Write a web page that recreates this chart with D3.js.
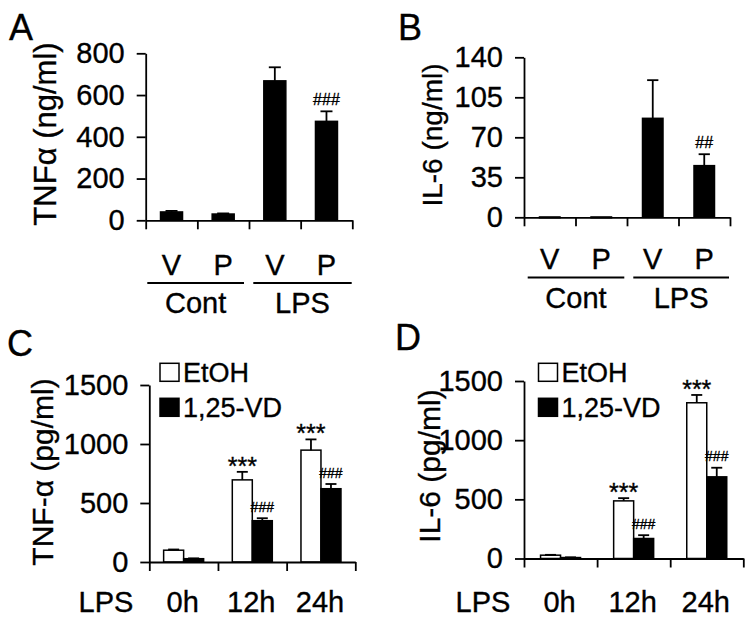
<!DOCTYPE html>
<html>
<head>
<meta charset="utf-8">
<script src="https://cdn.jsdelivr.net/npm/d3@7"></script>
<style>
  html, body { margin: 0; padding: 0; background: #fff; }
  svg { display: block; }
  text { font-family: "Liberation Sans", Arial, Helvetica, sans-serif; fill: #000; stroke: #000; stroke-width: 0.35px; }
</style>
</head>
<body>
<svg id="chart" width="750" height="618"></svg>
<script>
// ---------------- DATA ----------------
const abCategories = ["V", "P", "V", "P"];
const abGroups = ["Cont", "LPS"];

const tnfA = [40, 30, 668, 474];
const tnfAErr = [5, 3, 65, 48];
const tnfAMarks = ["", "", "", "###"];
const tnfATicks = [0, 200, 400, 600, 800];

const il6B = [0.3, 0.3, 86.6, 45.2];
const il6BErr = [0, 0, 33.4, 10];
const il6BMarks = ["", "", "", "##"];
const il6BTicks = [0, 35, 70, 105, 140];

const timeLabels = ["0h", "12h", "24h"];
const seriesNames = ["EtOH", "1,25-VD"];

const tnfCEtOH = [100, 696, 948];
const tnfCEtOHErr = [6, 68, 91];
const tnfCVD = [28, 350, 621];
const tnfCVDErr = [3, 21, 40];

const il6DEtOH = [28, 487, 1316];
const il6DEtOHErr = [3, 23, 66];
const il6DVD = [8, 169, 690];
const il6DVDErr = [2, 28, 77];

const etohMarks = ["", "***", "***"];
const vdMarks = ["", "###", "###"];
const cdTicks = [0, 500, 1000, 1500];

// ---------------- DRAW ----------------
const svg = d3.select("#chart");
svg.append("rect").attr("width", 750).attr("height", 618).attr("fill", "#fff");

const SW = 1.8;

function yAxis(g, y, ticks) {
  const ax = g.append("g")
    .attr("transform", `translate(${y.x0},0)`)
    .call(d3.axisLeft(y).tickValues(ticks).tickFormat(d3.format("d"))
      .tickSize(9).tickPadding(12).tickSizeOuter(0));
  ax.selectAll("path, line").attr("stroke", "#000").attr("stroke-width", SW);
  ax.selectAll("text").attr("font-size", 29)
    .attr("font-family", "Liberation Sans, Arial, sans-serif")
    .attr("fill", "#000").attr("stroke", "#000").attr("stroke-width", 0.35);
}

function xAxis(g, n, x0, x1, yBase) {
  const xl = d3.scaleLinear().domain([0, n]).range([x0, x1]);
  const ax = g.append("g")
    .attr("transform", `translate(0,${yBase})`)
    .call(d3.axisBottom(xl).tickValues(d3.range(n + 1)).tickSize(9).tickFormat("").tickSizeOuter(0));
  ax.selectAll("path, line").attr("stroke", "#000").attr("stroke-width", SW);
}

function bar(g, cx, w, val, err, y, fill, mark, markType) {
  const top = y(val), base = y(0);
  g.append("rect")
    .attr("x", cx - w / 2).attr("y", top)
    .attr("width", w).attr("height", Math.max(base - top, 0.8))
    .attr("fill", fill).attr("stroke", "#000").attr("stroke-width", 1.5);
  let errTop = top;
  if (err > 0) {
    errTop = y(val + err);
    g.append("line").attr("x1", cx).attr("x2", cx).attr("y1", top).attr("y2", errTop)
      .attr("stroke", "#000").attr("stroke-width", SW);
    g.append("line").attr("x1", cx - w / 4 - 0.5).attr("x2", cx + w / 4 + 0.5).attr("y1", errTop).attr("y2", errTop)
      .attr("stroke", "#000").attr("stroke-width", SW);
  }
  if (mark) {
    if (mark.startsWith("#")) {
      g.append("text").attr("x", cx).attr("y", errTop - 6.5)
        .attr("text-anchor", "middle")
        .attr("font-family", "Liberation Serif, Times New Roman, serif")
        .attr("font-size", markType === "big" ? 16 : 14)
        .attr("stroke-width", 0.2)
        .text(mark);
    } else {
      g.append("text").attr("x", cx).attr("y", errTop + 3)
        .attr("text-anchor", "middle")
        .attr("font-size", 25)
        .attr("stroke-width", 0.6)
        .text(mark);
    }
  }
}

function yLabel(g, text, xBase, yCenter, size) {
  g.append("text")
    .attr("transform", `translate(${xBase},${yCenter}) rotate(-90)`)
    .attr("text-anchor", "middle")
    .attr("font-size", size)
    .text(text);
}

function panelLetter(g, t, x, y) {
  g.append("text").attr("x", x).attr("y", y).attr("font-size", 36).text(t);
}

// ---- Panels A & B ----
function panelAB(cfg) {
  const g = svg.append("g");
  const y = d3.scaleLinear().domain([0, cfg.ticks[cfg.ticks.length - 1]]).range([cfg.y0, cfg.y1]);
  y.x0 = cfg.x0;
  const xb = d3.scaleBand().domain(d3.range(abCategories.length)).range([cfg.x0, cfg.x1]).padding(0);
  const bw = cfg.barW;
  cfg.values.forEach((v, i) => {
    const cx = xb(i) + xb.bandwidth() / 2;
    bar(g, cx, bw, v, cfg.errs[i], y, "#000", cfg.marks[i], "big");
  });
  yAxis(g, y, cfg.ticks);
  xAxis(g, abCategories.length, cfg.x0, cfg.x1, cfg.y0);
  abCategories.forEach((c, i) => {
    g.append("text").attr("x", xb(i) + xb.bandwidth() / 2).attr("y", cfg.catY)
      .attr("text-anchor", "middle").attr("font-size", 29).text(c);
  });
  abGroups.forEach((grp, j) => {
    const lx0 = cfg.lines[j][0], lx1 = cfg.lines[j][1];
    g.append("line").attr("x1", lx0).attr("x2", lx1).attr("y1", cfg.lineY).attr("y2", cfg.lineY)
      .attr("stroke", "#000").attr("stroke-width", SW);
    g.append("text").attr("x", (lx0 + lx1) / 2).attr("y", cfg.grpY)
      .attr("text-anchor", "middle").attr("font-size", 29).text(grp);
  });
  yLabel(g, cfg.label, cfg.labX, cfg.labY, cfg.labSize);
  panelLetter(g, cfg.letter, cfg.letX, cfg.letY);
}

panelAB({
  values: tnfA, errs: tnfAErr, marks: tnfAMarks, ticks: tnfATicks,
  x0: 145.7, x1: 352.3, y0: 220.3, y1: 53.3, barW: 22,
  catY: 275, lineY: 283, grpY: 313,
  lines: [[147.3, 244], [253.3, 351.7]],
  label: "TNFα (ng/ml)", labX: 56, labY: 134, labSize: 31,
  letter: "A", letX: 9, letY: 39.5
});

panelAB({
  values: il6B, errs: il6BErr, marks: il6BMarks, ticks: il6BTicks,
  x0: 524, x1: 730, y0: 217.3, y1: 57.3, barW: 20.5,
  catY: 269, lineY: 277.5, grpY: 308,
  lines: [[527.7, 624.3], [633.3, 729]],
  label: "IL-6 (ng/ml)", labX: 442, labY: 135, labSize: 28,
  letter: "B", letX: 398, letY: 39.5
});

// ---- Panels C & D ----
function panelCD(cfg) {
  const g = svg.append("g");
  const y = d3.scaleLinear().domain([0, cdTicks[cdTicks.length - 1]]).range([cfg.y0, cfg.y1]);
  y.x0 = cfg.x0;
  const xb = d3.scaleBand().domain(d3.range(timeLabels.length)).range([cfg.x0, cfg.x1]).padding(0);
  const bw = cfg.barW;
  timeLabels.forEach((t, i) => {
    const c = xb(i) + xb.bandwidth() / 2;
    bar(g, c - bw / 2, bw, cfg.etoh[i], cfg.etohErr[i], y, "#fff", etohMarks[i], "small");
    bar(g, c + bw / 2, bw, cfg.vd[i], cfg.vdErr[i], y, "#000", vdMarks[i], "small");
    g.append("text").attr("x", c - 1).attr("y", 612)
      .attr("text-anchor", "middle").attr("font-size", 29).text(t);
  });
  g.append("text").attr("x", cfg.lpsX).attr("y", 612)
    .attr("text-anchor", "middle").attr("font-size", 29).text("LPS");
  yAxis(g, y, cdTicks);
  xAxis(g, timeLabels.length, cfg.x0, cfg.x1, cfg.y0);
  const fills = ["#fff", "#000"];
  seriesNames.forEach((s, i) => {
    const ly = 363.3 + i * 35;
    g.append("rect").attr("x", cfg.legX).attr("y", ly).attr("width", 19).attr("height", 18)
      .attr("fill", fills[i]).attr("stroke", "#000").attr("stroke-width", 1.5);
    g.append("text").attr("x", cfg.legX + 23).attr("y", ly + 18.5)
      .attr("font-size", 27).text(s);
  });
  yLabel(g, cfg.label, cfg.labX, cfg.labY, 30);
  panelLetter(g, cfg.letter, cfg.letX, cfg.letY);
}

panelCD({
  etoh: tnfCEtOH, etohErr: tnfCEtOHErr, vd: tnfCVD, vdErr: tnfCVDErr,
  x0: 149.3, x1: 355.3, y0: 562, y1: 385, barW: 20,
  lpsX: 106, legX: 160,
  label: "TNF-α (pg/ml)", labX: 53, labY: 472,
  letter: "C", letX: 7, letY: 356
});

panelCD({
  etoh: il6DEtOH, etohErr: il6DEtOHErr, vd: il6DVD, vdErr: il6DVDErr,
  x0: 524, x1: 743.3, y0: 558.5, y1: 381, barW: 20,
  lpsX: 483, legX: 538.5,
  label: "IL-6 (pg/ml)", labX: 440, labY: 466,
  letter: "D", letX: 395, letY: 350
});
</script>
</body>
</html>
